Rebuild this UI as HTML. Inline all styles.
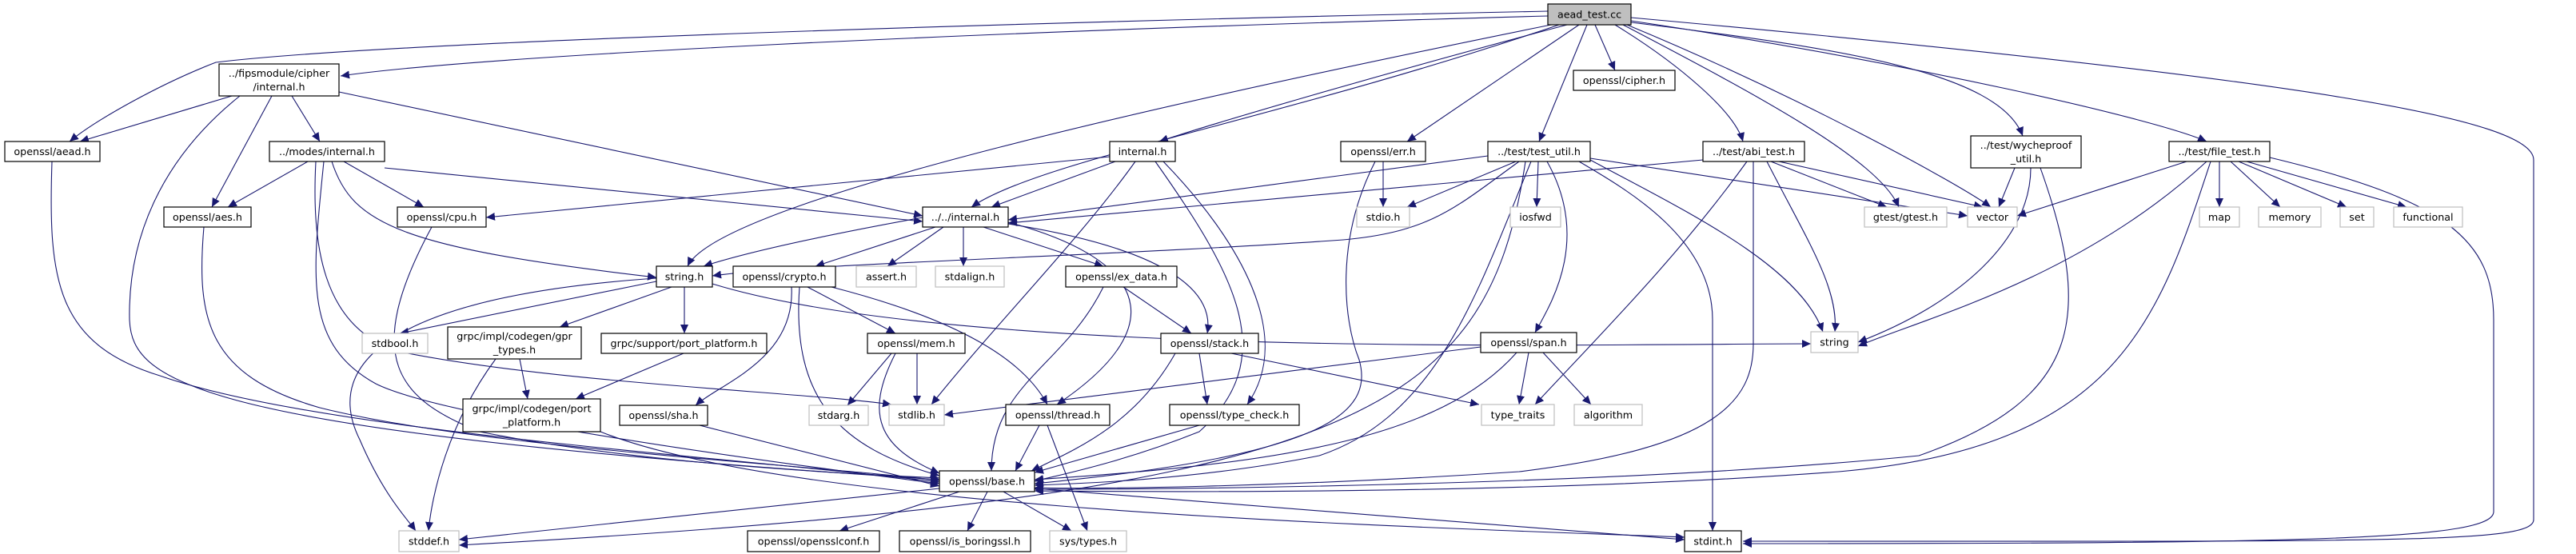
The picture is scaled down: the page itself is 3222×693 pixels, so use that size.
<!DOCTYPE html>
<html><head><meta charset="utf-8"><style>
html,body{margin:0;padding:0;background:#fff;}
svg{display:block;}
text{font-family:"DejaVu Sans","Liberation Sans",sans-serif;font-size:12.7px;text-anchor:middle;fill:#000;}
.n{fill:#fff;stroke:#000;stroke-width:1.2;}
.g{fill:#fff;stroke:#bfbfbf;stroke-width:1.2;}
.e{fill:none;stroke:#191970;stroke-width:1.1;marker-end:url(#ah);}
</style></head><body>
<svg width="3222" height="693" viewBox="0 0 3222 693" xmlns="http://www.w3.org/2000/svg">
<defs><marker id="ah" markerUnits="userSpaceOnUse" markerWidth="12" markerHeight="10" refX="11" refY="5" orient="auto"><path d="M0,0 L11,5 L0,10 z" fill="#191970"/></marker></defs>
<g>
<path class="e" d="M1936,20 C1200,40 600,70 426,95"/>
<path class="e" d="M1936,14 C1400,25 500,50 270,78 C200,105 120,150 87,177"/>
<path class="e" d="M1940,31 C1500,120 900,250 860,333"/>
<path class="e" d="M1950,31 C1600,150 1300,200 1215,259"/>
<path class="e" d="M1960,31 C1700,100 1500,160 1450,177"/>
<path class="e" d="M1975,31 L1760,177"/>
<path class="e" d="M1985,31 L1925,177"/>
<path class="e" d="M1995,31 L2020,88"/>
<path class="e" d="M2020,31 C2100,80 2170,140 2180,177"/>
<path class="e" d="M2030,31 C2200,120 2350,200 2375,259"/>
<path class="e" d="M2035,31 C2250,120 2450,230 2490,259"/>
<path class="e" d="M2040,28 C2300,60 2500,90 2530,170"/>
<path class="e" d="M2040,26 C2400,80 2700,150 2760,177"/>
<path class="e" d="M2040,22 C2900,100 3169,150 3169,200 L3169,650 C3169,680 3000,677 2180,677"/>
<path class="e" d="M290,120 L100,177"/>
<path class="e" d="M340,120 L265,259"/>
<path class="e" d="M365,120 L400,177"/>
<path class="e" d="M300,120 C200,200 160,300 162,400 C165,480 250,540 1175,600"/>
<path class="e" d="M424,115 L1154,270"/>
<path class="e" d="M385,202 L285,259"/>
<path class="e" d="M430,202 L530,259"/>
<path class="e" d="M415,202 C440,280 500,310 821,347"/>
<path class="e" d="M481,210 L1154,277"/>
<path class="e" d="M405,202 C390,350 380,430 470,480 C550,520 900,570 1175,605"/>
<path class="e" d="M395,202 C390,300 400,410 500,440 C700,480 1000,490 1115,506"/>
<path class="e" d="M65,202 C60,350 70,430 200,470 C400,540 900,570 1175,603"/>
<path class="e" d="M255,284 C245,400 260,470 400,510 C600,560 1000,580 1175,601"/>
<path class="e" d="M540,284 C450,450 500,500 600,540 C800,580 1050,592 1175,598"/>
<path class="e" d="M1388,196 L608,272"/>
<path class="e" d="M1395,202 L1240,259"/>
<path class="e" d="M1420,202 C1350,300 1250,400 1165,506"/>
<path class="e" d="M1445,202 C1550,350 1600,450 1500,540 C1400,580 1320,595 1294,602"/>
<path class="e" d="M1455,202 C1550,300 1620,420 1560,506"/>
<path class="e" d="M1730,202 L1730,259"/>
<path class="e" d="M1720,202 C1670,300 1680,400 1700,450 C1720,520 1650,570 1294,605"/>
<path class="e" d="M1861,195 L1261,275"/>
<path class="e" d="M1896,202 L1760,259"/>
<path class="e" d="M1924,202 L1922,259"/>
<path class="e" d="M1900,202 C1820,260 1790,290 1680,300 C1400,320 1000,330 891,345"/>
<path class="e" d="M1935,202 C1990,300 1940,380 1920,416"/>
<path class="e" d="M1975,202 C2040,240 2142,300 2142,400 L2142,664"/>
<path class="e" d="M1915,202 C1850,360 1800,520 1650,570 C1500,600 1350,605 1294,607"/>
<path class="e" d="M1989,200 C2100,260 2250,330 2280,415"/>
<path class="e" d="M1989,198 L2461,270"/>
<path class="e" d="M2130,200 L1261,279"/>
<path class="e" d="M2215,202 L2360,259"/>
<path class="e" d="M2225,202 L2480,259"/>
<path class="e" d="M2193,202 L2193,430 C2193,500 2150,560 1900,590 C1600,610 1350,612 1294,610"/>
<path class="e" d="M2210,202 C2260,300 2300,360 2295,415"/>
<path class="e" d="M2185,202 C2100,320 2000,420 1920,506"/>
<path class="e" d="M2520,210 L2500,259"/>
<path class="e" d="M2540,210 C2540,300 2450,380 2324,428"/>
<path class="e" d="M2552,210 C2620,400 2600,500 2400,570 C2000,610 1400,612 1294,612"/>
<path class="e" d="M2735,202 L2523,270"/>
<path class="e" d="M2776,202 L2776,259"/>
<path class="e" d="M2790,202 L2852,259"/>
<path class="e" d="M2800,202 L2935,259"/>
<path class="e" d="M2810,202 L3010,259"/>
<path class="e" d="M2760,202 C2600,350 2400,400 2324,433"/>
<path class="e" d="M2765,202 C2700,400 2650,560 2300,590 C1900,620 1400,615 1294,614"/>
<path class="e" d="M2839,197 C3060,250 3119,300 3119,400 L3119,640 C3119,675 2900,680 2180,680"/>
<path class="e" d="M1154,272 C1000,300 920,320 880,333"/>
<path class="e" d="M1170,284 L1020,333"/>
<path class="e" d="M1180,284 L1110,333"/>
<path class="e" d="M1205,284 L1205,333"/>
<path class="e" d="M1230,284 L1380,333"/>
<path class="e" d="M1261,280 C1450,310 1520,360 1510,417"/>
<path class="e" d="M1261,278 C1420,320 1480,400 1322,506"/>
<path class="e" d="M821,352 L500,417"/>
<path class="e" d="M840,359 L700,409"/>
<path class="e" d="M856,359 L856,417"/>
<path class="e" d="M821,348 C500,370 400,450 450,550 C480,620 510,650 520,664"/>
<path class="e" d="M891,355 C1200,450 2000,430 2265,430"/>
<path class="e" d="M990,359 C995,450 900,480 870,507"/>
<path class="e" d="M1010,359 L1120,417"/>
<path class="e" d="M1040,359 C1200,400 1280,450 1310,506"/>
<path class="e" d="M1000,359 C990,500 1050,560 1175,595"/>
<path class="e" d="M1115,442 L1060,507"/>
<path class="e" d="M1147,442 L1147,506"/>
<path class="e" d="M1120,442 C1080,520 1100,560 1175,592"/>
<path class="e" d="M1405,359 L1490,417"/>
<path class="e" d="M1380,359 C1330,460 1240,480 1240,589"/>
<path class="e" d="M1500,442 L1510,506"/>
<path class="e" d="M1470,442 C1420,530 1350,560 1290,589"/>
<path class="e" d="M1540,442 L1850,506"/>
<path class="e" d="M1300,532 L1270,589"/>
<path class="e" d="M1310,532 L1360,664"/>
<path class="e" d="M1500,532 L1294,591"/>
<path class="e" d="M1852,434 L1181,519"/>
<path class="e" d="M1912,441 L1900,506"/>
<path class="e" d="M1930,441 L1990,506"/>
<path class="e" d="M1897,441 C1800,550 1600,580 1294,600"/>
<path class="e" d="M650,449 L660,499"/>
<path class="e" d="M620,449 C560,530 540,620 536,664"/>
<path class="e" d="M855,442 L720,499"/>
<path class="e" d="M751,540 C1000,640 1800,660 2107,672"/>
<path class="e" d="M875,532 L1175,608"/>
<path class="e" d="M1175,611 L574,675"/>
<path class="e" d="M1200,615 L1050,664"/>
<path class="e" d="M1235,615 L1210,664"/>
<path class="e" d="M1255,615 L1340,664"/>
<path class="e" d="M1294,611 L2107,675"/>
<path class="e" d="M1908,202 C1860,520 1700,620 574,682"/>
</g>
<g>
<rect x="1936" y="5" width="104" height="26" fill="#bfbfbf" stroke="#000" stroke-width="1.2"/><text x="1988" y="22.5">aead_test.cc</text>
<rect class="n" x="274" y="80" width="150" height="40"/><text x="349" y="96">../fipsmodule/cipher</text><text x="349" y="113">/internal.h</text>
<rect class="n" x="6" y="177" width="119" height="25"/><text x="65.5" y="194">openssl/aead.h</text>
<rect class="n" x="337" y="177" width="144" height="25"/><text x="409" y="194">../modes/internal.h</text>
<rect class="n" x="1388" y="177" width="82" height="25"/><text x="1429" y="194">internal.h</text>
<rect class="n" x="1677" y="177" width="106" height="25"/><text x="1730" y="194">openssl/err.h</text>
<rect class="n" x="1861" y="177" width="128" height="25"/><text x="1925" y="194">../test/test_util.h</text>
<rect class="n" x="1968" y="88" width="127" height="25"/><text x="2031.5" y="105">openssl/cipher.h</text>
<rect class="n" x="2130" y="177" width="127" height="25"/><text x="2193.5" y="194">../test/abi_test.h</text>
<rect class="n" x="2465" y="170" width="138" height="40"/><text x="2534" y="186">../test/wycheproof</text><text x="2534" y="203">_util.h</text>
<rect class="n" x="2713" y="177" width="126" height="25"/><text x="2776" y="194">../test/file_test.h</text>
<rect class="n" x="205" y="259" width="109" height="25"/><text x="259.5" y="276">openssl/aes.h</text>
<rect class="n" x="497" y="259" width="111" height="25"/><text x="552.5" y="276">openssl/cpu.h</text>
<rect class="n" x="1154" y="259" width="107" height="25"/><text x="1207.5" y="276">../../internal.h</text>
<rect class="g" x="1697" y="259" width="66" height="25"/><text x="1730" y="276">stdio.h</text>
<rect class="g" x="1889" y="259" width="63" height="25"/><text x="1920.5" y="276">iosfwd</text>
<rect class="g" x="2332" y="259" width="103" height="25"/><text x="2383.5" y="276">gtest/gtest.h</text>
<rect class="g" x="2461" y="259" width="62" height="25"/><text x="2492" y="276">vector</text>
<rect class="g" x="2751" y="259" width="50" height="25"/><text x="2776" y="276">map</text>
<rect class="g" x="2825" y="259" width="78" height="25"/><text x="2864" y="276">memory</text>
<rect class="g" x="2927" y="259" width="42" height="25"/><text x="2948" y="276">set</text>
<rect class="g" x="2994" y="259" width="86" height="25"/><text x="3037" y="276">functional</text>
<rect class="n" x="821" y="333" width="70" height="26"/><text x="856" y="350.5">string.h</text>
<rect class="n" x="917" y="333" width="128" height="26"/><text x="981" y="350.5">openssl/crypto.h</text>
<rect class="g" x="1071" y="333" width="75" height="26"/><text x="1108.5" y="350.5">assert.h</text>
<rect class="g" x="1170" y="333" width="86" height="26"/><text x="1213" y="350.5">stdalign.h</text>
<rect class="n" x="1333" y="333" width="139" height="26"/><text x="1402.5" y="350.5">openssl/ex_data.h</text>
<rect class="g" x="453" y="417" width="82" height="25"/><text x="494" y="434">stdbool.h</text>
<rect class="n" x="560" y="409" width="167" height="40"/><text x="643.5" y="425">grpc/impl/codegen/gpr</text><text x="643.5" y="442">_types.h</text>
<rect class="n" x="752" y="417" width="207" height="25"/><text x="855.5" y="434">grpc/support/port_platform.h</text>
<rect class="n" x="1085" y="417" width="122" height="25"/><text x="1146" y="434">openssl/mem.h</text>
<rect class="n" x="1452" y="417" width="122" height="25"/><text x="1513" y="434">openssl/stack.h</text>
<rect class="n" x="1852" y="416" width="120" height="25"/><text x="1912" y="433">openssl/span.h</text>
<rect class="g" x="2265" y="415" width="59" height="26"/><text x="2294.5" y="432.5">string</text>
<rect class="n" x="579" y="499" width="172" height="41"/><text x="665" y="515.5">grpc/impl/codegen/port</text><text x="665" y="532.5">_platform.h</text>
<rect class="n" x="775" y="507" width="110" height="25"/><text x="830" y="524">openssl/sha.h</text>
<rect class="g" x="1012" y="507" width="74" height="25"/><text x="1049" y="524">stdarg.h</text>
<rect class="g" x="1112" y="506" width="69" height="26"/><text x="1146.5" y="523.5">stdlib.h</text>
<rect class="n" x="1258" y="506" width="130" height="26"/><text x="1323" y="523.5">openssl/thread.h</text>
<rect class="n" x="1463" y="506" width="162" height="26"/><text x="1544" y="523.5">openssl/type_check.h</text>
<rect class="g" x="1853" y="506" width="91" height="26"/><text x="1898.5" y="523.5">type_traits</text>
<rect class="g" x="1969" y="506" width="85" height="26"/><text x="2011.5" y="523.5">algorithm</text>
<rect class="n" x="1175" y="589" width="119" height="26"/><text x="1234.5" y="606.5">openssl/base.h</text>
<rect class="g" x="499" y="664" width="75" height="26"/><text x="536.5" y="681.5">stddef.h</text>
<rect class="n" x="935" y="664" width="165" height="26"/><text x="1017.5" y="681.5">openssl/opensslconf.h</text>
<rect class="n" x="1125" y="664" width="164" height="26"/><text x="1207" y="681.5">openssl/is_boringssl.h</text>
<rect class="g" x="1313" y="664" width="96" height="26"/><text x="1361" y="681.5">sys/types.h</text>
<rect class="n" x="2107" y="664" width="71" height="26"/><text x="2142.5" y="681.5">stdint.h</text>
</g>
</svg>
</body></html>
